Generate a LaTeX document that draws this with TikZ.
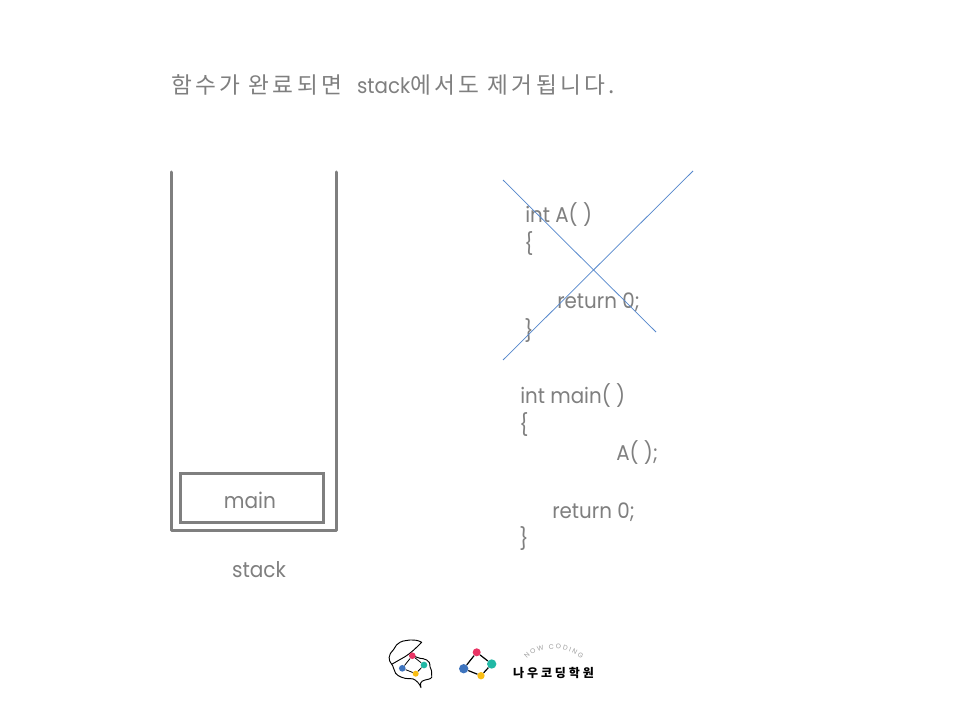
\documentclass[tikz,border=0pt]{standalone}
\usepackage{fontspec}
\usetikzlibrary{decorations.text}
\setmainfont{Poppins}
\newfontfamily\krfont[LetterSpace=14.5]{Noto Sans CJK KR}
\newfontfamily\wordfont[LetterSpace=24]{Noto Sans CJK KR}
\newfontfamily\codefont[FakeStretch=0.93]{Poppins}
\definecolor{ink}{RGB}{127,127,127}
\definecolor{crossblue}{RGB}{84,134,204}
\definecolor{lred}{RGB}{233,52,100}
\definecolor{lteal}{RGB}{32,184,165}
\definecolor{lyellow}{RGB}{250,190,20}
\definecolor{lblue}{RGB}{62,116,190}
\tikzset{
  wall/.style={draw=ink,line width=2.25pt,line cap=round,line join=round},
  cell/.style={draw=ink,line width=2.25pt,minimum width=107pt,minimum height=36.5pt,inner sep=0pt},
  lab/.style={font=\codefont\fontsize{16.2}{20}\selectfont,text=ink,inner sep=0pt,anchor=base},
  code/.style={font=\codefont\fontsize{16}{20}\selectfont,text=ink,inner sep=0pt,anchor=base west},
  title/.style={font=\krfont\fontsize{17}{20}\selectfont,text=ink,inner sep=0pt,anchor=base west},
  crossline/.style={draw=crossblue,line width=0.55pt},
  edge/.style={draw=black,line width=0.9pt},
  outline/.style={draw=black,line width=0.7pt,line join=round},
  dot/.style={circle,inner sep=0pt,minimum size=#1}
}
\begin{document}
\begin{tikzpicture}[x=0.75pt,y=-0.75pt]
\useasboundingbox (0,0) rectangle (960,720);
\fill[white] (0,0) rectangle (960,720);
\node[title] (ttl) at (171,94) {함수가 완료되면\hspace{5pt} {\codefont\fontsize{16}{20}\selectfont stack}에서도 제거됩니다.};
\coordinate (wa) at (171.5,172);
\coordinate (wb) at (171.5,530);
\coordinate (wc) at (336.5,530);
\coordinate (wd) at (336.5,172);
\draw[wall] (wa) -- (wb) -- (wc) -- (wd);
\node[cell] (mainbox) at (252,498) {};
\node[lab] (mainlab) at (250,508) {main};
\node[lab] (stacklab) at (259,577) {stack};
\node[code] (c1) at (525,223) {int A( )};
\node[code] (c2) at (524,252) {\{};
\node[code] (c3) at (557,309) {return 0;};
\node[code] (c4) at (524,338) {\}};
\node[code] (m1) at (520,403) {int main( )};
\node[code] (m2) at (519,432) {\{};
\node[code] (m3) at (616,460) {A( );};
\node[code] (m4) at (552,518) {return 0;};
\node[code] (m5) at (519,546) {\}};
\coordinate (xa) at (503,180);
\coordinate (xb) at (656,332);
\coordinate (xc) at (503,360);
\coordinate (xd) at (693,171);
\draw[crossline] (xa) -- (xb);
\draw[crossline] (xc) -- (xd);
% logo: brain outline
\draw[outline] (391.7,664.3) .. controls (388,660) and (388,655) .. (393.3,650)
  .. controls (396,646) and (397,643) .. (400,642.3)
  .. controls (404,640) and (407,641) .. (410,640)
  .. controls (414,640) and (418,640) .. (421.7,642.3)
  .. controls (416,648) and (411,653) .. (405,656.7) -- (391.7,664.3)
  .. controls (394,667) and (393,669) .. (394.3,670)
  .. controls (395,675) and (400,677) .. (405,678.3)
  .. controls (409,679) and (411,678) .. (413.3,679)
  .. controls (416,680) and (420,684) .. (421,687.7)
  .. controls (421,686) and (420,684) .. (420.7,683)
  .. controls (421,681) and (423,681) .. (425,680)
  .. controls (429,679) and (433,679) .. (431.7,675)
  .. controls (432,671) and (431,669) .. (430,666.7)
  .. controls (430,663) and (429,661) .. (426.7,660)
  .. controls (424,658) and (422,659) .. (420,658.3)
  -- (412.3,655.7);
\node[dot=5pt,fill=lred] (ba) at (412.3,655.7) {};
\node[dot=5pt,fill=lteal] (bb) at (424,665) {};
\node[dot=4.5pt,fill=lyellow] (bc) at (415.7,673.7) {};
\node[dot=5pt,fill=lblue] (bd) at (402.3,668.3) {};
\draw[edge,line width=0.6pt] (ba) -- (bb) -- (bc) -- (bd) -- (ba);
% logo: graph mark
\node[dot=6pt,fill=lred] (ga) at (476.7,652.3) {};
\node[dot=7pt,fill=lteal] (gb) at (491.7,664) {};
\node[dot=5.5pt,fill=lyellow] (gc) at (481,675.7) {};
\node[dot=7pt,fill=lblue] (gd) at (463.7,668.7) {};
\draw[edge] (ga) -- (gb) -- (gc) -- (gd) -- (ga);
% logo: wordmark
\node[font=\wordfont\bfseries\fontsize{9}{10}\selectfont,text=black,inner sep=0pt] (word) at (553.5,672.5) {나우코딩학원};
\coordinate (arcs) at (527,659);
\coordinate (arce) at (581,659);
\path[postaction={decorate,decoration={text along path,text align={fit to path},text={|\fontsize{5}{6}\selectfont\color{gray!75}|NOW CODING}}}] (arcs) .. controls (538,646) and (568,645) .. (arce);
\end{tikzpicture}
\end{document}
